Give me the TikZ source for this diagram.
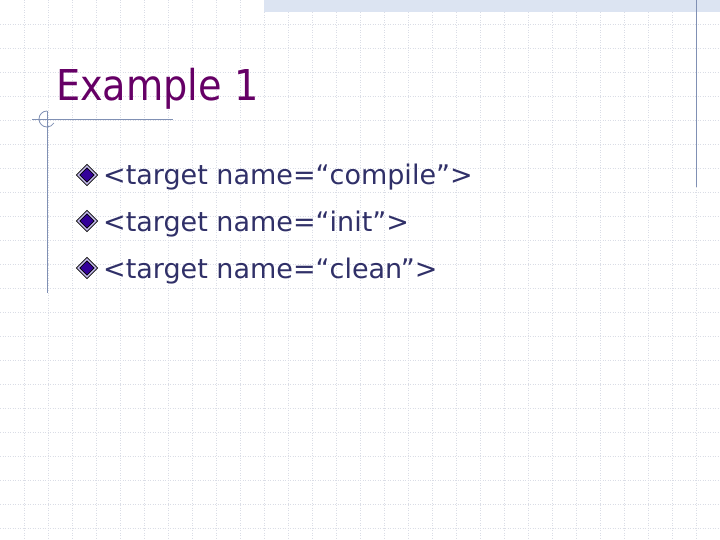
\documentclass[tikz,border=0pt]{standalone}
\usepackage{fontspec}
\setmainfont{DejaVu Sans}
\newfontfamily\titlefont{DejaVu Sans Condensed}
\usetikzlibrary{shapes.geometric}
\definecolor{gridcol}{RGB}{218,221,230}
\definecolor{rulecol}{RGB}{128,144,180}
\definecolor{bandcol}{RGB}{220,228,242}
\definecolor{titlecol}{RGB}{102,0,102}
\definecolor{textcol}{RGB}{48,48,104}
\definecolor{bulletcol}{RGB}{51,0,153}
\definecolor{ringcol}{RGB}{200,190,240}
\tikzset{
  gridline/.style={gridcol,dotted,line width=0.5pt},
  slideline/.style={rulecol,line width=0.8pt},
  itemtext/.style={anchor=base west,inner sep=0pt,textcol,font=\fontsize{27}{30}\selectfont},
  bulletmark/.style={diamond,draw=black,line width=0.8pt,fill=bulletcol,inner sep=0pt,minimum size=18pt,
    double=ringcol,double distance=1.5pt}
}
\begin{document}
\begin{tikzpicture}[x=1pt,y=-1pt]
\useasboundingbox (0,0) rectangle (720,540);
\fill[white] (0,0) rectangle (720,540);

% background grid
\foreach \gx in {24,48,...,720} \draw[gridline] (\gx,0) -- (\gx,540);
\foreach \gy in {24,48,...,540} \draw[gridline] (0,\gy) -- (720,\gy);

% top band
\fill[bandcol] (264,0) rectangle (720,12);

% slide rules
\draw[slideline] (696,0) -- (696,187);
\draw[slideline] (32,119) -- (173,119);
\draw[slideline] (47,111) -- (47,293);
\draw[slideline] (47,111) arc[start angle=-90,end angle=-330,radius=8];

% title
\node[anchor=base west,inner sep=0pt,titlecol,font=\titlefont\fontsize{42.5}{46}\selectfont] (title) at (56,101) {Example 1};

% items
\node[bulletmark] (b1) at (87,175) {};
\node[bulletmark] (b2) at (87,221) {};
\node[bulletmark] (b3) at (87,268) {};
\node[itemtext] (t1) at (103,185) {<target name=“compile”>};
\node[itemtext] (t2) at (103,232) {<target name=“init”>};
\node[itemtext] (t3) at (103,278) {<target name=“clean”>};
\end{tikzpicture}
\end{document}
